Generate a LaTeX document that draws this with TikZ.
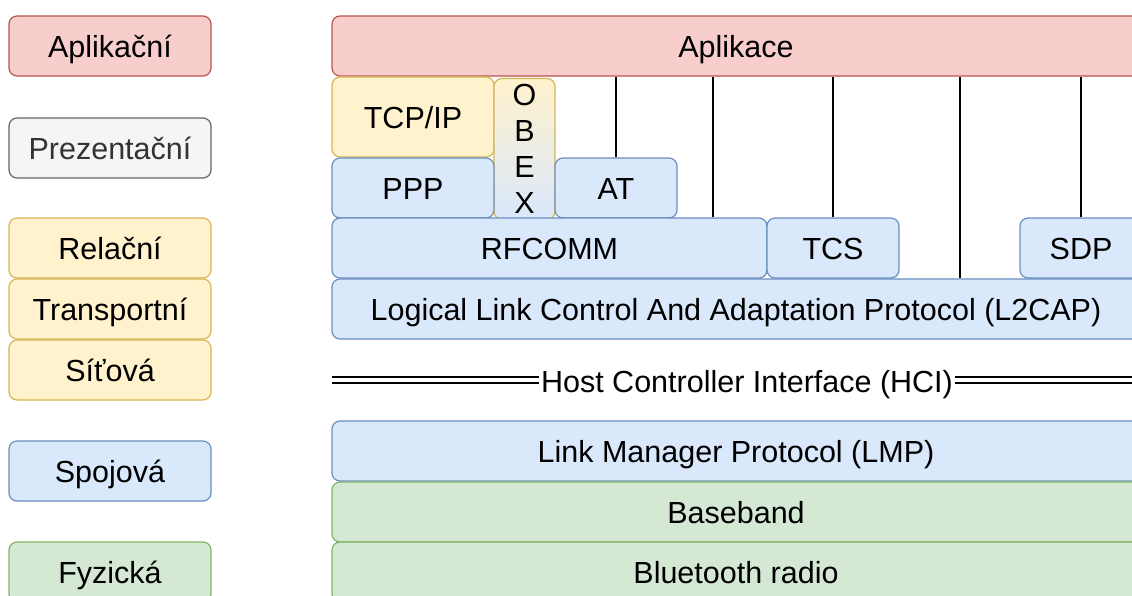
\documentclass[tikz,border=0pt]{standalone}
\usepackage{fontspec}
\setmainfont{Liberation Sans}
\definecolor{redfill}{HTML}{F8CECC}
\definecolor{redline}{HTML}{B85450}
\definecolor{grayfill}{HTML}{F5F5F5}
\definecolor{grayline}{HTML}{666666}
\definecolor{graytext}{HTML}{333333}
\definecolor{yellowfill}{HTML}{FFF2CC}
\definecolor{yellowline}{HTML}{D6B656}
\definecolor{bluefill}{HTML}{DAE8FC}
\definecolor{blueline}{HTML}{6C8EBF}
\definecolor{greenfill}{HTML}{D5E8D4}
\definecolor{greenline}{HTML}{82B366}
\tikzset{
  box/.style={draw, rounded corners=8pt, line width=1.2pt, inner sep=0pt,
    font=\fontsize{30.5}{36}\selectfont},
  layer/.style={box, minimum height=60pt, text height=26pt, text depth=4pt},
  osi/.style={layer, minimum width=202pt},
  red layer/.style={layer, fill=redfill, draw=redline},
  gray layer/.style={layer, fill=grayfill, draw=grayline, text=graytext},
  yellow layer/.style={layer, fill=yellowfill, draw=yellowline},
  blue layer/.style={layer, fill=bluefill, draw=blueline},
  green layer/.style={layer, fill=greenfill, draw=greenline},
  link/.style={line width=1.2pt},
  bus/.style={double, double distance=4pt, line width=1.8pt},
}
\begin{document}
\begin{tikzpicture}[x=1pt, y=-1pt]
  \useasboundingbox (0,0) rectangle (1132,595);
  \begin{scope}
    \clip (0,0) rectangle (1132,595);
    % OSI model
    \node[osi, red layer] (aplikacni) at (110,46) {Aplikační};
    \node[osi, gray layer] (prezentacni) at (110,148) {Prezentační};
    \node[osi, yellow layer] (relacni) at (110,248) {Relační};
    \node[osi, yellow layer] (transportni) at (110,309) {Transportní};
    \node[osi, yellow layer] (sitova) at (110,370) {Síťová};
    \node[osi, blue layer] (spojova) at (110,471) {Spojová};
    \node[osi, green layer] (fyzicka) at (110,572) {Fyzická};
    % Bluetooth stack
    \node[red layer, minimum width=808pt] (app) at (736,46) {Aplikace};
    \node[yellow layer, minimum width=162pt, minimum height=80pt] (tcpip) at (413,117) {TCP/IP};
    \node[box, draw=yellowline, top color=yellowfill, bottom color=bluefill,
      minimum width=61pt, minimum height=141pt, align=center] (obex) at (524.5,149) {O\\B\\E\\X};
    \node[blue layer, minimum width=162pt] (ppp) at (413,188) {PPP};
    \node[blue layer, minimum width=122pt] (at) at (616,188) {AT};
    \node[blue layer, minimum width=435pt] (rfcomm) at (549.5,248) {RFCOMM};
    \node[blue layer, minimum width=132pt] (tcs) at (833,248) {TCS};
    \node[blue layer, minimum width=122pt] (sdp) at (1081,248) {SDP};
    \node[blue layer, minimum width=808pt] (l2cap) at (736,309)
      {Logical Link Control And Adaptation Protocol (L2CAP)};
    \node[font=\fontsize{30.5}{36}\selectfont, inner sep=2pt,
      text height=26pt, text depth=4pt] (hci) at (747,381)
      {Host Controller Interface (HCI)};
    \node[blue layer, minimum width=808pt] (lmp) at (736,451) {Link Manager Protocol (LMP)};
    \node[green layer, minimum width=808pt] (baseband) at (736,512) {Baseband};
    \node[green layer, minimum width=808pt] (radio) at (736,572) {Bluetooth radio};
    % HCI
    \coordinate (hci left) at (332,380);
    \coordinate (hci right) at (1140,380);
    \draw[bus] (hci left) -- (hci left -| hci.west);
    \draw[bus] (hci right -| hci.east) -- (hci right);
    % links from the application
    \coordinate (rf link) at (713,0);
    \coordinate (l2 link) at (960,0);
    \draw[link] (at.north) -- (at.north |- app.south);
    \draw[link] (rf link |- rfcomm.north) -- (rf link |- app.south);
    \draw[link] (tcs.north) -- (tcs.north |- app.south);
    \draw[link] (l2 link |- l2cap.north) -- (l2 link |- app.south);
    \draw[link] (sdp.north) -- (sdp.north |- app.south);
  \end{scope}
\end{tikzpicture}
\end{document}
